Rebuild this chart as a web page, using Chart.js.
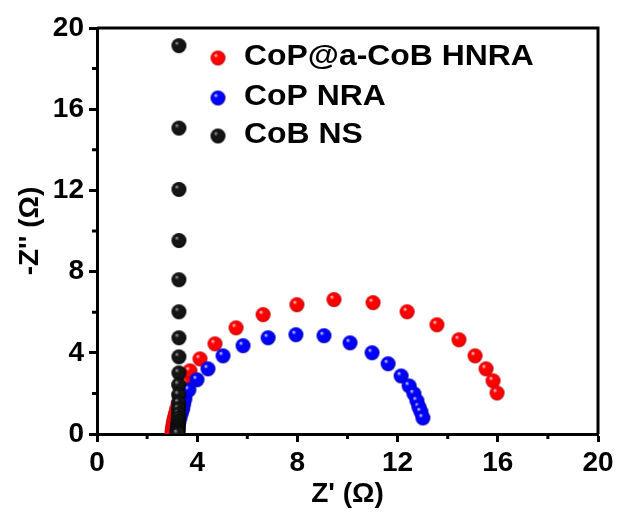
<!DOCTYPE html>
<html>
<head>
<meta charset="utf-8">
<script src="https://cdn.jsdelivr.net/npm/chart.js@4.4.0/dist/chart.umd.min.js"></script>
<style>body{margin:0;background:#fff}</style>
</head>
<body>
<canvas id="myChart" width="622" height="521"></canvas>
<script>
const seriesNames = ['CoP@a-CoB HNRA', 'CoP NRA', 'CoB NS']
const seriesColors = ['red', 'blue', 'black']

// Z' and -Z'' (ohm)
const hnraRe = [3.00,3.00,3.01,3.02,3.04,3.06,3.09,3.13,3.18,3.24,3.32,3.42,3.55,3.71,4.11,4.71,5.55,6.63,7.98,9.46,11.02,12.38,13.57,14.45,15.09,15.53,15.81,15.97]
const hnraIm = [0.02,0.10,0.20,0.32,0.46,0.62,0.80,1.00,1.22,1.48,1.76,2.08,2.50,3.11,3.70,4.44,5.23,5.88,6.37,6.62,6.47,6.02,5.38,4.64,3.85,3.21,2.62,2.02]

const nraRe = [3.20,3.20,3.21,3.22,3.24,3.27,3.31,3.36,3.42,3.46,3.51,3.67,3.99,4.43,5.03,5.83,6.83,7.94,9.06,10.10,10.98,11.62,12.14,12.46,12.65,12.77,12.85,12.93,13.01]
const nraIm = [0.02,0.10,0.20,0.32,0.46,0.62,0.80,1.00,1.22,1.47,1.73,2.17,2.67,3.21,3.85,4.35,4.74,4.89,4.84,4.49,4.00,3.46,2.86,2.37,1.98,1.63,1.33,1.09,0.79]

const nsRe = [3.27,3.27,3.27,3.27,3.27,3.27,3.27,3.27,3.27,3.26,3.26,3.26,3.25,3.25,3.25,3.24,3.24,3.24,3.23,3.23,3.23,3.22,3.22]
const nsIm = [19.13,15.07,12.05,9.53,7.60,6.02,4.74,3.80,3.01,2.42,1.93,1.53,1.23,0.98,0.78,0.62,0.48,0.37,0.28,0.20,0.13,0.07,0.02]

const axisTicks = [0, 4, 8, 12, 16, 20]
const minorTicks = [2, 6, 10, 14, 18]

const FONT = 'Liberation Sans'

// glossy ball used as point marker
const makeBall = (color, r) => {
    const c = document.createElement('canvas')
    const s = Math.ceil(r * 2) + 2
    c.width = s
    c.height = s
    const g = c.getContext('2d')
    const m = s / 2
    const hi = color == 'black' ? '#b0b0b0' : '#ffffff'
    const base = {red: '#ff0000', blue: '#0000ff', black: '#151515'}[color]
    const edge = {red: '#b00000', blue: '#0000a0', black: '#000000'}[color]
    const grad = g.createRadialGradient(m - r * 0.35, m - r * 0.4, 0, m, m, r)
    grad.addColorStop(0, hi)
    grad.addColorStop(0.3, base)
    grad.addColorStop(0.8, base)
    grad.addColorStop(1, edge)
    g.fillStyle = grad
    g.beginPath()
    g.arc(m, m, r, 0, Math.PI * 2)
    g.fill()
    return c
}
const balls = seriesColors.map(c => makeBall(c, 7.5))

const toPts = (re, im) => re.map((v, i) => ({x: v, y: im[i]}))

const frame = {
    id: 'frame',
    afterDatasetsDraw(chart) {
        const {ctx, chartArea: a, scales} = chart
        ctx.save()
        ctx.strokeStyle = 'black'
        ctx.lineWidth = 3
        ctx.beginPath()
        ctx.moveTo(a.left, a.top)
        ctx.lineTo(a.right, a.top)
        ctx.lineTo(a.right, a.bottom)
        ctx.stroke()
        minorTicks.forEach(v => {
            const px = scales.x.getPixelForValue(v)
            const py = scales.y.getPixelForValue(v)
            ctx.beginPath()
            ctx.moveTo(px, a.bottom)
            ctx.lineTo(px, a.bottom + 5)
            ctx.moveTo(a.left - 5, py)
            ctx.lineTo(a.left, py)
            ctx.stroke()
        })
        // legend, text a bit wider like the original
        ctx.font = `bold 29px "${FONT}"`
        ctx.fillStyle = 'black'
        ctx.textBaseline = 'alphabetic'
        const rows = [65, 105, 143]
        seriesNames.forEach((name, i) => {
            const b = balls[i]
            ctx.drawImage(b, 218 - b.width / 2, rows[i] - 7 - b.height / 2)
            ctx.save()
            ctx.translate(244, rows[i])
            ctx.scale(1.1, 1)
            ctx.fillText(name, 0, 0)
            ctx.restore()
        })
        ctx.restore()
    }
}

const tickFont = {family: FONT, size: 28, weight: 'bold'}
const titleFont = {family: FONT, size: 28, weight: 'bold'}

const config = {
    type: 'scatter',
    data: {
        datasets: [
            {label: seriesNames[0], data: toPts(hnraRe, hnraIm), pointStyle: balls[0], order: 3},
            {label: seriesNames[1], data: toPts(nraRe, nraIm), pointStyle: balls[1], order: 2},
            {label: seriesNames[2], data: toPts(nsRe, nsIm), pointStyle: balls[2], order: 1},
        ]
    },
    options: {
        responsive: false,
        animation: false,
        layout: {padding: {top: 28, right: 24, left: 0, bottom: 0}},
        plugins: {legend: {display: false}, tooltip: {enabled: false}},
        scales: {
            x: {
                min: 0,
                max: 20,
                afterFit: s => { s.height = 87 },
                afterBuildTicks: s => { s.ticks = axisTicks.map(v => ({value: v})) },
                grid: {drawOnChartArea: false, drawTicks: true, tickLength: 8, tickWidth: 3, tickColor: 'black'},
                border: {display: true, color: 'black', width: 3},
                ticks: {color: 'black', font: tickFont, padding: 4, maxRotation: 0},
                title: {display: true, text: "Z' (\u03A9)", color: 'black', font: titleFont, padding: {top: 0, bottom: 10}},
            },
            y: {
                min: 0,
                max: 20,
                afterFit: s => { s.width = 97 },
                afterBuildTicks: s => { s.ticks = axisTicks.map(v => ({value: v})) },
                grid: {drawOnChartArea: false, drawTicks: true, tickLength: 8, tickWidth: 3, tickColor: 'black'},
                border: {display: true, color: 'black', width: 3},
                ticks: {color: 'black', font: tickFont, padding: 5},
                title: {display: true, text: "-Z'' (\u03A9)", color: 'black', font: titleFont, padding: {top: 13, bottom: 0}},
            }
        }
    },
    plugins: [frame]
}

const chart1 = new Chart(document.getElementById('myChart'), config)
</script>
</body>
</html>
